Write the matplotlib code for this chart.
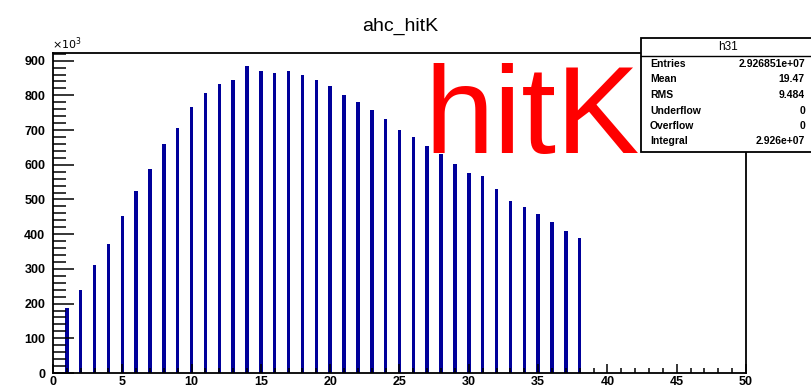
import matplotlib
matplotlib.use("Agg")
import matplotlib.pyplot as plt
from matplotlib.patches import Rectangle
from matplotlib.ticker import MultipleLocator

# hit multiplicity per event (bin = number of hits), counts in thousands
hit_bins = list(range(1, 39))
counts_k = [187, 239, 311, 372, 451, 523, 588, 660, 707, 765,
            806, 833, 845, 884, 871, 864, 871, 858, 845, 826,
            800, 780, 758, 733, 700, 680, 655, 632, 602, 575,
            568, 529, 496, 477, 457, 436, 410, 390]

hist_title = "ahc_hitK"
overlay_label = "hitK"
stats_name = "h31"
stats_labels = ["Entries", "Mean", "RMS", "Underflow", "Overflow", "Integral"]
stats_values = ["2.926851e+07", "19.47", "9.484", "0", "0", "2.926e+07"]

W, H = 812, 389
fig = plt.figure(figsize=(W / 100, H / 100), dpi=100)
fig.patch.set_facecolor("white")
plt.rcParams["font.family"] = ["Liberation Sans", "DejaVu Sans"]


def fx(px):
    return px / W


def fy(py):
    return 1 - py / H


ax = fig.add_axes([fx(53), fy(373), fx(746) - fx(53), fy(53) - fy(373)])
ax.bar(hit_bins, counts_k, width=0.25, color="#00009a", edgecolor="none")
ax.set_xlim(0, 50)
ax.set_ylim(0, 922)

ax.xaxis.set_major_locator(MultipleLocator(5))
ax.xaxis.set_minor_locator(MultipleLocator(1))
ax.yaxis.set_major_locator(MultipleLocator(100))
ax.yaxis.set_minor_locator(MultipleLocator(20))

for s in ax.spines.values():
    s.set_linewidth(1.3)
ax.tick_params(axis="x", which="major", direction="in", length=6.5, width=1.1,
               pad=2.5, labelsize=9, top=False)
ax.tick_params(axis="x", which="minor", direction="in", length=3.6, width=1.1, top=False)
ax.tick_params(axis="y", which="major", direction="in", length=15, width=1.1,
               pad=5.5, labelsize=9, right=False)
ax.tick_params(axis="y", which="minor", direction="in", length=9.5, width=1.1, right=False)
for lab in ax.get_xticklabels() + ax.get_yticklabels():
    lab.set_fontweight("bold")

fig.text(fx(52), fy(44), r"$\times10^{3}$", fontsize=8, ha="left", va="center",
         fontweight="bold")

fig.text(fx(400), fy(26.5), hist_title, fontsize=14, ha="center", va="center")

# big red overlay label
fig.text(fx(424), fy(153), overlay_label, fontsize=90, color="red",
         ha="left", va="baseline", zorder=5)

# statistics box
box_l, box_r, box_t, box_b, box_mid = 641, 815, 38, 152, 56
fig.patches.append(Rectangle((fx(box_l), fy(box_b)), fx(box_r) - fx(box_l),
                             fy(box_t) - fy(box_b), transform=fig.transFigure,
                             facecolor="white", edgecolor="black", linewidth=1.3,
                             zorder=6, clip_on=False))
fig.add_artist(plt.Line2D([fx(box_l), fx(box_r)], [fy(box_mid), fy(box_mid)],
                          transform=fig.transFigure, color="black", lw=1.0, zorder=7))
fig.text(fx((box_l + 815) / 2), fy(47.5), stats_name, fontsize=8.5, ha="center",
         va="center", zorder=8)
for i, (lab, val) in enumerate(zip(stats_labels, stats_values)):
    y = 64 + i * 15.5
    fig.text(fx(650), fy(y), lab, fontsize=7.5, fontweight="bold", ha="left",
             va="center", zorder=8)
    fig.text(fx(805), fy(y), val, fontsize=7.5, fontweight="bold", ha="right",
             va="center", zorder=8)

fig.savefig("out.png", dpi=100)
